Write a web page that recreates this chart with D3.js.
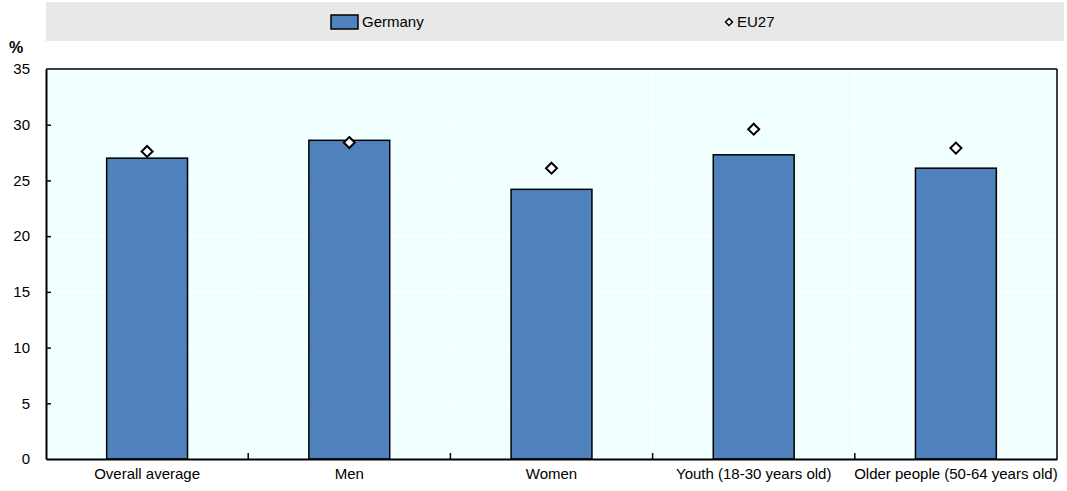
<!DOCTYPE html>
<html><head><meta charset="utf-8">
<script src="https://cdn.jsdelivr.net/npm/d3@7"></script>
<style>
body{margin:0;background:#fff;}
text{font-family:"Liberation Sans Narrow","Arial Narrow","Liberation Sans",Arial,sans-serif;}
</style></head>
<body><svg id="c" width="1067" height="491"></svg>
<script>
const categories = ["Overall average","Men","Women","Youth (18-30 years old)","Older people (50-64 years old)"];
const germany = [27.0, 28.6, 24.2, 27.3, 26.1];
const eu27 = [27.6, 28.4, 26.1, 29.6, 27.9];
const yTicks = [0,5,10,15,20,25,30,35];

const svg = d3.select("#c");
const m = {l:46, r:1057, t:69, b:459};
const x = d3.scaleBand().domain(categories).range([m.l, m.r]).paddingInner(0).paddingOuter(0);
const y = d3.scaleLinear().domain([0,35]).range([m.b, m.t]);
const diamond = s => `M0,${-s}L${s},0L0,${s}L${-s},0Z`;

// legend
svg.append("rect").attr("x",46).attr("y",2).attr("width",1018).attr("height",39).attr("fill","#e8e8e8");
svg.append("rect").attr("x",331).attr("y",15).attr("width",27).attr("height",14).attr("fill","#4f81bd").attr("stroke","#000").attr("stroke-width",1.5);
svg.append("text").attr("x",362).attr("y",27).attr("font-size",15).text("Germany");
svg.append("path").attr("d",diamond(3.5)).attr("transform","translate(729,22)").attr("fill","#fff").attr("stroke","#000").attr("stroke-width",1.5);
svg.append("text").attr("x",737).attr("y",27).attr("font-size",15).text("EU27");

// plot bg
svg.append("rect").attr("x",m.l).attr("y",m.t).attr("width",m.r-m.l).attr("height",m.b-m.t).attr("fill","#f2ffff");
// grid
svg.append("g").selectAll("line").data(yTicks.slice(1,-1)).join("line")
  .attr("x1",m.l).attr("x2",m.r).attr("y1",d=>y(d)).attr("y2",d=>y(d)).attr("stroke","#fff").attr("stroke-width",1.5);
svg.append("g").selectAll("line").data(categories.slice(1)).join("line")
  .attr("x1",d=>x(d)).attr("x2",d=>x(d)).attr("y1",m.t).attr("y2",m.b).attr("stroke","#fff").attr("stroke-width",1.5);

// bars
const bw = x.bandwidth()*0.4;
svg.append("g").selectAll("rect").data(categories).join("rect")
  .attr("x",(d)=>x(d)+x.bandwidth()/2-bw/2).attr("width",bw)
  .attr("y",(d,i)=>y(germany[i])).attr("height",(d,i)=>y(0)-y(germany[i]))
  .attr("fill","#4f81bd").attr("stroke","#000").attr("stroke-width",1.5);

// diamonds
svg.append("g").selectAll("path").data(categories).join("path")
  .attr("d",diamond(5.5))
  .attr("transform",(d,i)=>`translate(${x(d)+x.bandwidth()/2},${y(eu27[i])})`)
  .attr("fill","#fff").attr("stroke","#000").attr("stroke-width",2);

// frame
svg.append("line").attr("x1",m.l).attr("x2",m.r).attr("y1",m.t).attr("y2",m.t).attr("stroke","#000").attr("stroke-width",1.5);
svg.append("line").attr("x1",m.r).attr("x2",m.r).attr("y1",m.t).attr("y2",m.b).attr("stroke","#000").attr("stroke-width",1.5);

// y axis
const ya = svg.append("g").attr("transform",`translate(${m.l},0)`)
  .call(d3.axisLeft(y).tickValues(yTicks).tickSize(6).tickSizeOuter(0).tickPadding(8));
ya.select(".domain").attr("stroke","#000").attr("stroke-width",2);
ya.selectAll(".tick line").attr("x2",5).attr("x1",0).attr("stroke-width",1.5);
ya.selectAll(".tick").filter(d=>d===0||d===35).select("line").remove();
ya.selectAll("text").attr("font-size",15).attr("fill","#000").attr("x",-16).attr("font-family","Liberation Sans Narrow, Arial Narrow, sans-serif");

// x axis
const xa = svg.append("g").attr("transform",`translate(0,${m.b})`)
  .call(d3.axisBottom(x).tickSize(0).tickSizeOuter(0).tickPadding(9));
xa.select(".domain").attr("stroke","#000").attr("stroke-width",2);
xa.selectAll("text").attr("font-size",15).attr("fill","#000").attr("font-family","Liberation Sans Narrow, Arial Narrow, sans-serif");
svg.append("g").selectAll("line").data(categories.slice(1)).join("line")
  .attr("x1",d=>x(d)).attr("x2",d=>x(d)).attr("y1",m.b).attr("y2",m.b-6).attr("stroke","#000").attr("stroke-width",1.5);

svg.append("text").attr("x",9).attr("y",53).attr("font-size",16).attr("font-weight","bold").text("%");
</script></body></html>
